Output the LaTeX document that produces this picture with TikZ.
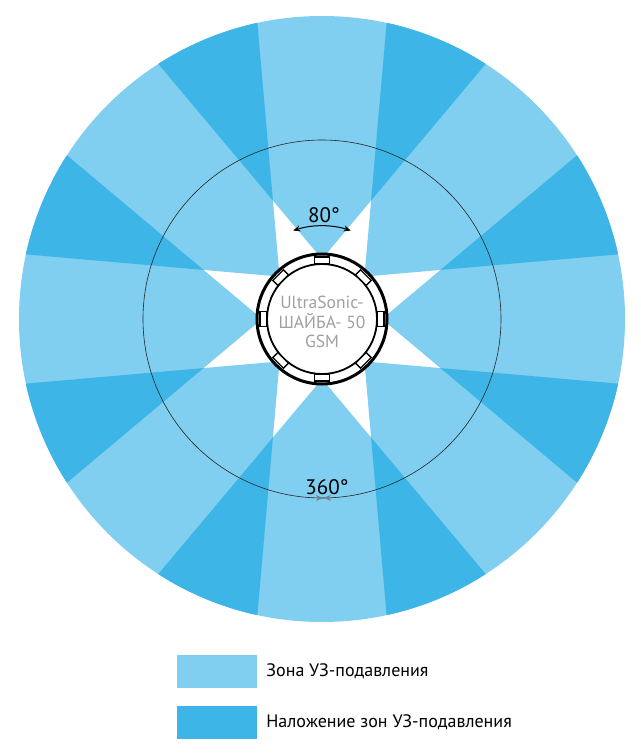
\documentclass[tikz,border=0pt]{standalone}
\usepackage{fontspec}
\setmainfont{PT Sans}
\usetikzlibrary{positioning,arrows.meta}
\definecolor{zonelight}{RGB}{128,206,240}
\definecolor{zonedark}{RGB}{61,181,230}
\definecolor{labelgrey}{RGB}{160,160,160}
\definecolor{arrowgrey}{RGB}{115,130,140}
\def\beam[#1](#2){\fill[#1] (#2:60) -- +({#2-40}:700) -- +({#2+40}:700) -- cycle;}
\def\overlap(#1)(#2){\begin{scope}\clip (#1:60) -- +({#1-40}:700) -- +({#1+40}:700) -- cycle;\beam[zonedark](#2)\end{scope}}
\tikzset{
	emitter/.style={draw, fill=white, line width=1.3pt, minimum width=15pt, minimum height=7pt, inner sep=0pt},
	keybox/.style={minimum width=80pt, minimum height=33pt, inner sep=0pt},
	keytext/.style={font=\fontsize{18}{21}\selectfont, inner sep=0pt, anchor=west},
	degtext/.style={font=\fontsize{21}{24}\selectfont, inner sep=0pt},
}

\begin{document}
\begin{tikzpicture}[x=1pt,y=1pt]
		%%%%% START %%%%%
		\fill[white] (-322,-436) rectangle (318,319);
		\useasboundingbox (-322,-436) rectangle (318,319);
		
		\begin{scope}
			\clip (0,0) circle (303);
			\beam[zonelight](0)
			\beam[zonelight](45)
			\beam[zonelight](90)
			\beam[zonelight](135)
			\beam[zonelight](180)
			\beam[zonelight](225)
			\beam[zonelight](270)
			\beam[zonelight](315)
			
			\overlap(0)(45)
			\overlap(45)(90)
			\overlap(90)(135)
			\overlap(135)(180)
			\overlap(180)(225)
			\overlap(225)(270)
			\overlap(270)(315)
			\overlap(315)(360)
		\end{scope}
		
		\draw[black!85, line width=0.6pt] (0,0) circle (179);
		
		\draw[line width=3pt, fill=white] (0,0) circle (65);
		\draw[line width=1.8pt] (0,0) circle (55);
		\node[emitter, rotate=0] (e1) at (90:58.5) {};
		\node[emitter, rotate=45] (e2) at (135:58.5) {};
		\node[emitter, rotate=90] (e3) at (180:58.5) {};
		\node[emitter, rotate=135] (e4) at (225:58.5) {};
		\node[emitter, rotate=180] (e5) at (270:58.5) {};
		\node[emitter, rotate=225] (e6) at (315:58.5) {};
		\node[emitter, rotate=270] (e7) at (0:58.5) {};
		\node[emitter, rotate=315] (e8) at (45:58.5) {};
		
		\node[labelgrey, align=center, font=\fontsize{17.5}{19.5}\selectfont] (devname) at (0,-3) {UltraSonic-\\ШАЙБА- 50\\GSM};
		
		\draw[{Stealth[length=7pt,width=6pt]}-{Stealth[length=7pt,width=6pt]}, line width=1pt] (108:93) arc (108:72:93);
		\node[degtext] (deg80) at (2,104) {80°};
		
		\draw[arrowgrey, line width=0.8pt, -{Stealth[length=7pt,width=6pt]}] (268.1:179) arc (268.1:270.3:179);
		\draw[arrowgrey, line width=0.8pt, -{Stealth[length=7pt,width=6pt]}] (273.2:179) arc (273.2:270.6:179);
		\node[degtext] (deg360) at (5,-168) {360°};
		
		\node[keybox, fill=zonelight] (keyA) at (-105,-352.5) {};
		\node[keytext, right=9pt of keyA] (keyAtext) {Зона УЗ-подавления};
		\node[keybox, fill=zonedark] (keyB) at (-105,-403.5) {};
		\node[keytext, right=9pt of keyB] (keyBtext) {Наложение зон УЗ-подавления};
		%%%%% END %%%%%
\end{tikzpicture}
\end{document}
